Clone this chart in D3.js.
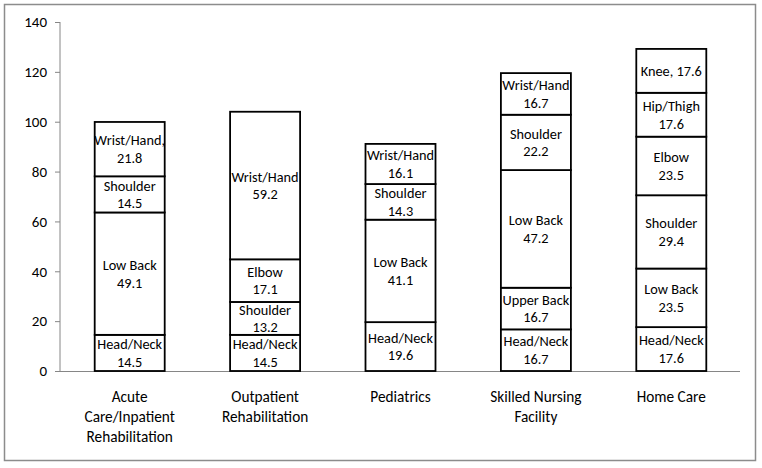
<!DOCTYPE html>
<html><head><meta charset="utf-8">
<script src="https://cdn.jsdelivr.net/npm/d3@7/dist/d3.min.js"></script>
<style>
body{margin:0;background:#fff;}
text{font-family:Carlito,Lato,"Liberation Sans",sans-serif;fill:#000;}
</style></head>
<body><svg id="c" width="762" height="468"></svg>
<script>
const categories = [
  ["Acute", "Care/Inpatient", "Rehabilitation"],
  ["Outpatient", "Rehabilitation"],
  ["Pediatrics"],
  ["Skilled Nursing", "Facility"],
  ["Home Care"]
];
const seriesNames = ["Head/Neck","Upper Back","Low Back","Shoulder","Elbow","Hip/Thigh","Wrist/Hand","Knee"];
const headNeck  = [14.5, 14.5, 19.6, 16.7, 17.6];
const upperBack = [0, 0, 0, 16.7, 0];
const lowBack   = [49.1, 0, 41.1, 47.2, 23.5];
const shoulder  = [14.5, 13.2, 14.3, 22.2, 29.4];
const elbow     = [0, 17.1, 0, 0, 23.5];
const hipThigh  = [0, 0, 0, 0, 17.6];
const wristHand = [21.8, 59.2, 16.1, 16.7, 0];
const knee      = [0, 0, 0, 0, 17.6];
const yTicks = [0,20,40,60,80,100,120,140];
const labelOverrides = {"0|Wrist/Hand": ["Wrist/Hand,", "21.8"], "4|Knee": ["Knee, 17.6"]};

const seriesVals = [headNeck, upperBack, lowBack, shoulder, elbow, hipThigh, wristHand, knee];
const rows = categories.map((c,i)=>{
  const r = {idx:i};
  seriesNames.forEach((s,j)=> r[s] = seriesVals[j][i]);
  return r;
});
const stack = d3.stack().keys(seriesNames)(rows);

const svg = d3.select("#c");
svg.append("rect").attr("x",4.5).attr("y",4.5).attr("width",751).attr("height",456)
  .attr("fill","#fff").attr("stroke","#8c8c8c").attr("stroke-width",1.5);

const x = d3.scaleBand().domain(d3.range(categories.length)).range([62,739]).paddingInner(0.483).paddingOuter(0.2415);
const y = d3.scaleLinear().domain([0,140]).range([371,22]);

const yAxis = svg.append("g").attr("transform","translate(60,0)")
  .call(d3.axisLeft(y).tickValues(yTicks).tickSize(5).tickPadding(8).tickFormat(d3.format("d")));
yAxis.select(".domain").attr("stroke","#868686").attr("d","M0,22V371");
yAxis.selectAll(".tick line").attr("stroke","#868686");
yAxis.selectAll(".tick text").attr("font-size",15).style("font-family","Carlito,Lato,sans-serif");

svg.append("line").attr("x1",60).attr("x2",740).attr("y1",y(0)+0.5).attr("y2",y(0)+0.5).attr("stroke","#868686");

const g = svg.append("g");
stack.forEach(layer=>{
  layer.forEach((d,i)=>{
    const v = d[1]-d[0];
    if (v <= 0) return;
    g.append("rect").attr("x",x(i)).attr("y",y(d[1])).attr("width",x.bandwidth()).attr("height",y(d[0])-y(d[1]))
      .attr("fill","#fff").attr("stroke","#000").attr("stroke-width",1.8);
  });
});
stack.forEach(layer=>{
  layer.forEach((d,i)=>{
    const v = d[1]-d[0];
    if (v <= 0) return;
    const key = i+"|"+layer.key;
    const lines = labelOverrides[key] || [layer.key, d3.format(".1f")(v)];
    const cy = (y(d[0])+y(d[1]))/2;
    const lh = 17.7;
    const t = g.append("text").attr("text-anchor","middle").attr("font-size",14.3);
    lines.forEach((ln,k)=>{
      t.append("tspan").attr("x",x(i)+x.bandwidth()/2)
        .attr("y", cy + (k-(lines.length-1)/2)*lh).attr("dy","0.35em").text(ln);
    });
  });
});

categories.forEach((lines,i)=>{
  const t = svg.append("text").attr("text-anchor","middle").attr("font-size",15.3);
  lines.forEach((ln,k)=>{
    t.append("tspan").attr("x",x(i)+x.bandwidth()/2).attr("y",397+k*20).attr("dy","0.35em").text(ln);
  });
});
</script></body></html>
